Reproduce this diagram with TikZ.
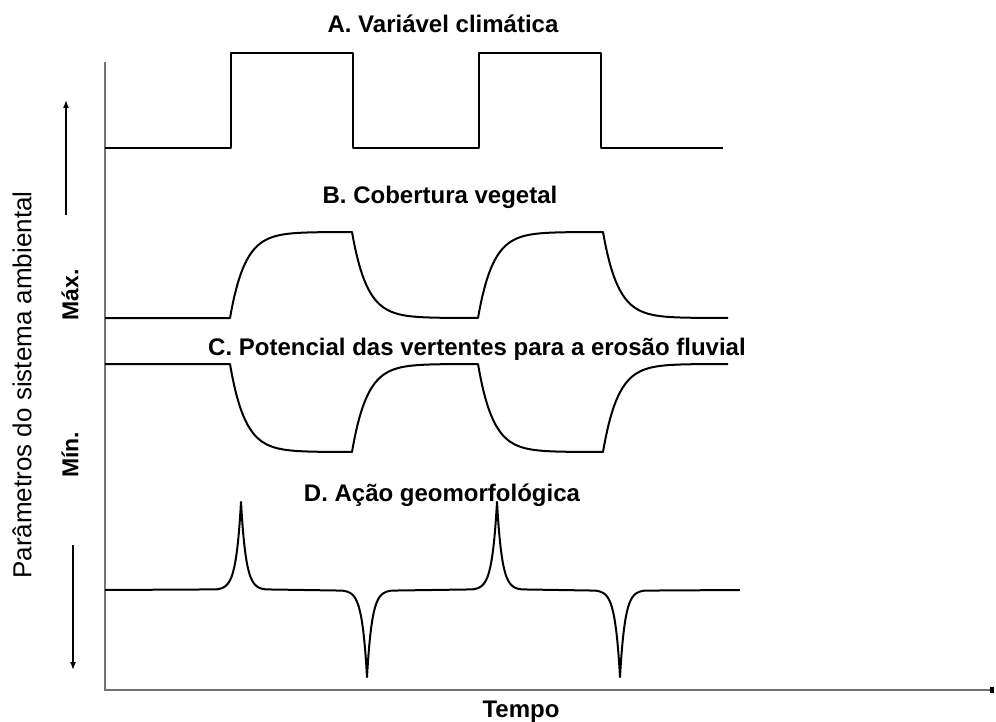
\documentclass[tikz,border=0pt]{standalone}
\usepackage{fontspec}
\setmainfont{Liberation Sans}
\usetikzlibrary{arrows.meta}
\begin{document}
\begin{tikzpicture}[x=1pt,y=-1pt,
  curve/.style={line width=2pt, black, line join=round},
  axisline/.style={line width=1.5pt, black!55},
  ttl/.style={font=\fontsize{24}{27}\selectfont\bfseries, inner sep=0pt, anchor=base},
  sidelbl/.style={font=\fontsize{23}{26}\selectfont\bfseries, inner sep=0pt, rotate=90},
  sidearrow/.style={line width=1.5pt, -{Latex[length=8pt,width=6pt]}}]
\useasboundingbox[fill=white] (0,0) rectangle (996,722);

% axes
\coordinate (ytop) at (105,62);
\coordinate (orig) at (105,690);
\coordinate (xend) at (994,690);
\draw[axisline] (ytop) -- (orig) -- (xend);
\fill[black] (xend) ++(-4,-3) rectangle ++(4,6);

% A: square wave
\draw[curve] (105,148) -- (231,148) -- (231,53) -- (353,53) -- (353,148)
  -- (479,148) -- (479,53) -- (601,53) -- (601,148) -- (723,148);

% B: vegetation cover
\draw[curve] (105,318) -- (230,318)
  -- plot[domain=0:122,samples=90] ({230+\x},{318-86*(1-exp(-\x/15))})
  -- plot[domain=0:126,samples=90] ({352+\x},{232+86*(1-exp(-\x/15))})
  -- plot[domain=0:125,samples=90] ({478+\x},{318-86*(1-exp(-\x/15))})
  -- plot[domain=0:125,samples=90] ({603+\x},{232+86*(1-exp(-\x/15))});

% C: slope erosion potential
\draw[curve] (105,364) -- (230,364)
  -- plot[domain=0:122,samples=90] ({230+\x},{364+88*(1-exp(-\x/15))})
  -- plot[domain=0:126,samples=90] ({352+\x},{452-88*(1-exp(-\x/15))})
  -- plot[domain=0:125,samples=90] ({478+\x},{364+88*(1-exp(-\x/15))})
  -- plot[domain=0:125,samples=90] ({603+\x},{452-88*(1-exp(-\x/15))});

% D: geomorphic action
\draw[curve] (105,590)
  -- plot[domain=-25:25,samples=101] ({241+\x},{590-88*exp(-abs(\x)/5)})
  -- plot[domain=-25:25,samples=101] ({367+\x},{590+87*exp(-abs(\x)/5)})
  -- plot[domain=-25:25,samples=101] ({497+\x},{590-88*exp(-abs(\x)/5)})
  -- plot[domain=-25:25,samples=101] ({620+\x},{590+87*exp(-abs(\x)/5)})
  -- (740,590);

% titles
\node[ttl] (tA) at (443,33) {A. Variável climática};
\node[ttl] (tB) at (440,204) {B. Cobertura vegetal};
\node[ttl] (tC) at (477,355) {C. Potencial das vertentes para a erosão fluvial};
\node[ttl] (tD) at (442,501) {D. Ação geomorfológica};
\node[ttl] (tT) at (521,717) {Tempo};

% left labels
\node[rotate=90, inner sep=0pt, font=\fontsize{26}{29}\selectfont] (par) at (22,385) {Parâmetros do sistema ambiental};
\node[sidelbl] (max) at (70,295) {Máx.};
\node[sidelbl] (min) at (70,455) {Mín.};
\coordinate (upS) at (66,215);
\coordinate (upE) at (66,100);
\coordinate (dnS) at (73,545);
\coordinate (dnE) at (73,670);
\draw[sidearrow] (upS) -- (upE);
\draw[sidearrow] (dnS) -- (dnE);
\end{tikzpicture}
\end{document}
